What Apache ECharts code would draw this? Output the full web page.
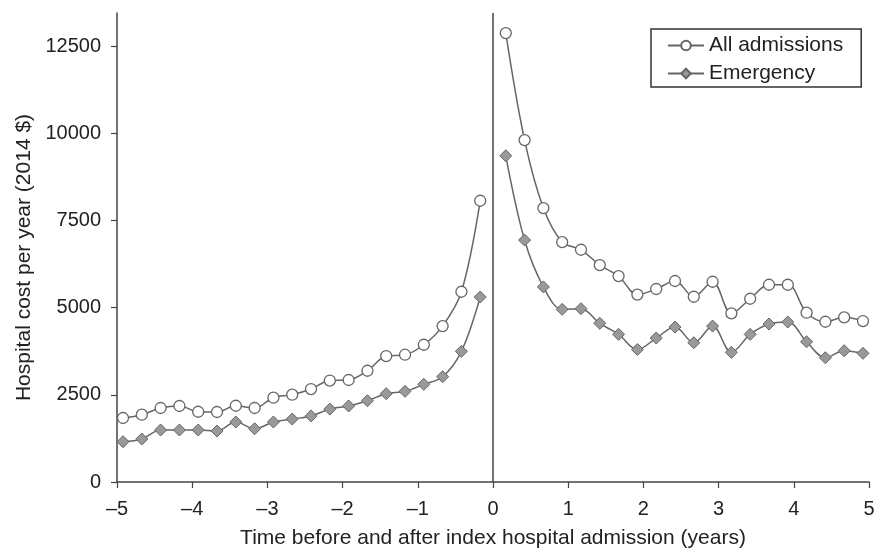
<!DOCTYPE html>
<html>
<head>
<meta charset="utf-8">
<script src="https://cdn.jsdelivr.net/npm/echarts@6/dist/echarts.min.js"></script>
<style>
  html, body { margin: 0; padding: 0; background: #fff; }
  #chart { width: 875px; height: 548px; }
</style>
</head>
<body>
<div id="chart"></div>
<script>
  // time points (years) before and after the index admission
  const yearsBefore = [-4.92, -4.67, -4.42, -4.17, -3.92, -3.67, -3.42, -3.17, -2.92, -2.67,
                       -2.42, -2.17, -1.92, -1.67, -1.42, -1.17, -0.92, -0.67, -0.42, -0.17];
  const yearsAfter = [0.17, 0.42, 0.67, 0.92, 1.17, 1.42, 1.67, 1.92, 2.17, 2.42,
                      2.67, 2.92, 3.17, 3.42, 3.67, 3.92, 4.17, 4.42, 4.67, 4.92];

  const allBefore = [1835, 1930, 2122, 2179, 2015, 2007, 2187, 2122, 2417, 2503,
                     2666, 2910, 2925, 3191, 3612, 3650, 3936, 4472, 5456, 8065];
  const allAfter = [12873, 9805, 7856, 6881, 6660, 6221, 5906, 5375, 5535, 5765,
                    5313, 5743, 4837, 5255, 5657, 5657, 4855, 4596, 4722, 4616];

  const emBefore = [1155, 1233, 1491, 1491, 1491, 1462, 1720, 1528, 1720, 1806,
                    1895, 2090, 2180, 2331, 2532, 2600, 2801, 3019, 3747, 5304];
  const emAfter = [9355, 6938, 5595, 4951, 4969, 4550, 4234, 3800, 4128, 4444,
                   3994, 4472, 3718, 4234, 4530, 4587, 4022, 3564, 3764, 3690];

  const yTicks = [0, 2500, 5000, 7500, 10000, 12500];

  function pairs(xs, ys) {
    return xs.map((x, i) => [x, ys[i]]);
  }

  const font = 'Liberation Sans, Arial, Helvetica, sans-serif';
  const lineGray = '#666';

  function allSeries(data, withZero) {
    let s = {
      name: 'All admissions',
      type: 'line',
      data: data,
      smooth: 0.35,
      symbol: 'circle',
      symbolSize: 11,
      lineStyle: { color: lineGray, width: 1.5 },
      itemStyle: { color: '#fff', borderColor: lineGray, borderWidth: 1.3 }
    };
    if (withZero) {
      // vertical line at the index admission
      s.markLine = {
        silent: true,
        symbol: 'none',
        label: { show: false },
        lineStyle: { color: '#444', width: 1.5, type: 'solid' },
        data: [{ xAxis: 0 }]
      };
    }
    return s;
  }

  function emSeries(data) {
    return {
      name: 'Emergency',
      type: 'line',
      data: data,
      smooth: 0.35,
      symbol: 'diamond',
      symbolSize: 12,
      lineStyle: { color: lineGray, width: 1.5 },
      itemStyle: { color: '#999', borderColor: lineGray, borderWidth: 1 }
    };
  }

  let chart = echarts.init(document.getElementById('chart'));
  chart.setOption({
    animation: false,
    textStyle: { fontFamily: font },
    grid: { left: 117, right: 6, top: 13, bottom: 66, containLabel: false, outerBoundsMode: 'none' },
    legend: {
      data: ['All admissions', 'Emergency'],
      orient: 'vertical',
      left: 651,
      top: 29,
      padding: [6, 18, 3, 16],
      itemWidth: 36,
      itemHeight: 12,
      itemGap: 7,
      borderColor: '#333',
      borderWidth: 1.5,
      textStyle: { fontSize: 21, color: '#222', fontFamily: font }
    },
    xAxis: {
      type: 'value',
      min: -5,
      max: 5,
      interval: 1,
      name: 'Time before and after index hospital admission (years)',
      nameLocation: 'middle',
      nameGap: 46,
      nameTextStyle: { fontSize: 21, color: '#222' },
      axisLine: { lineStyle: { color: '#444', width: 1.5 } },
      axisTick: { length: 6, lineStyle: { color: '#444', width: 1.2 } },
      axisLabel: {
        fontSize: 20,
        color: '#222',
        margin: 17,
        formatter: v => String(v).replace('-', '\u2013')
      },
      splitLine: { show: false }
    },
    yAxis: {
      type: 'value',
      min: 0,
      max: 13450,
      name: 'Hospital cost per year (2014 $)',
      nameLocation: 'middle',
      nameGap: 80,
      nameTextStyle: { fontSize: 21, color: '#222', padding: [0, 20, 0, 0] },
      axisLine: { show: true, onZero: false, lineStyle: { color: '#444', width: 1.5 } },
      axisTick: { show: true, length: 6, customValues: yTicks, lineStyle: { color: '#444', width: 1.2 } },
      axisLabel: {
        fontSize: 20,
        color: '#222',
        margin: 16,
        customValues: yTicks,
        formatter: v => String(v)
      },
      splitLine: { show: false }
    },
    series: [
      allSeries(pairs(yearsBefore, allBefore), true),
      allSeries(pairs(yearsAfter, allAfter), false),
      emSeries(pairs(yearsBefore, emBefore)),
      emSeries(pairs(yearsAfter, emAfter))
    ]
  });
</script>
</body>
</html>
